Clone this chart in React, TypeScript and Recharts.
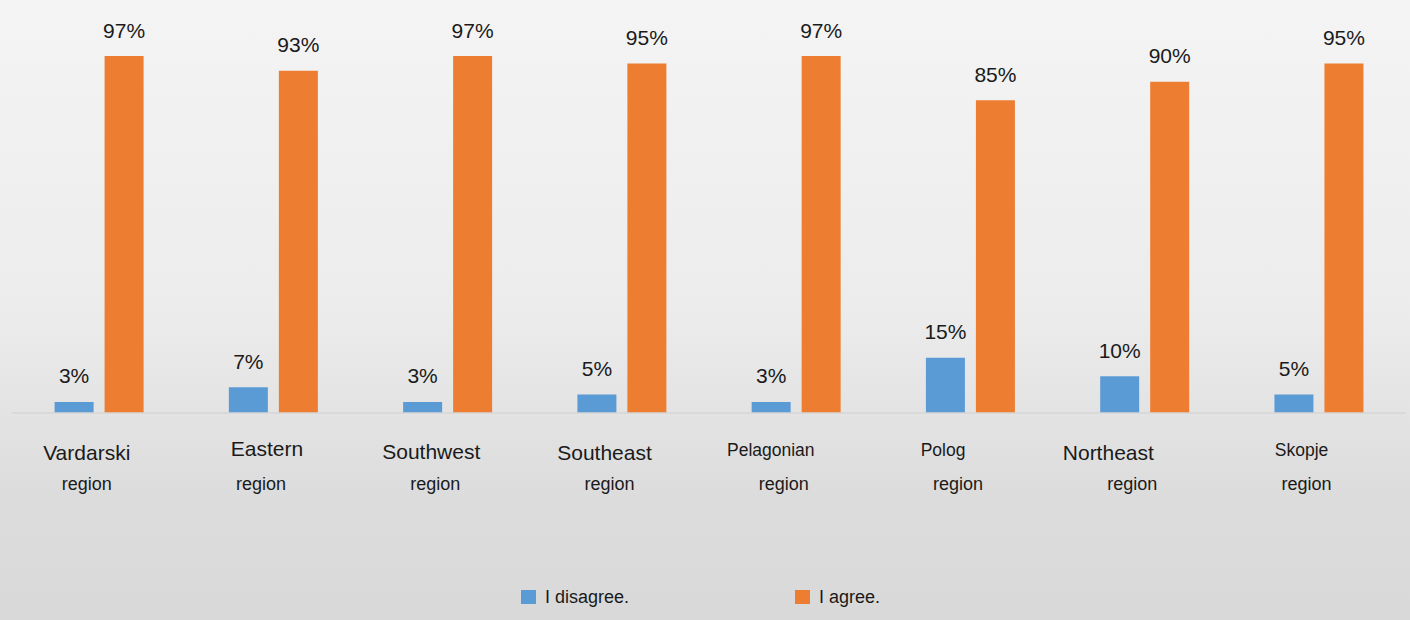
import React from "react"
import { BarChart, Bar, XAxis, YAxis, LabelList } from "recharts"

const regions = ["Vardarski", "Eastern", "Southwest", "Southeast", "Pelagonian", "Polog", "Northeast", "Skopje"]
const disagree = [3, 7, 3, 5, 3, 15, 10, 5]
const agree = [97, 93, 97, 95, 97, 85, 90, 95]
const seriesNames = ["I disagree.", "I agree."]

const BLUE = "#5B9BD5"
const ORANGE = "#ED7D31"
const FONT = "'Liberation Sans', Arial, sans-serif"

// the first label line is placed a bit differently under each group
const tickLayout = [
    { dx: -12, dy: 47, size: 21 },
    { dx: -6, dy: 43, size: 21 },
    { dx: -16, dy: 46, size: 21 },
    { dx: -17, dy: 47, size: 21 },
    { dx: -25, dy: 43, size: 17.5 },
    { dx: -27, dy: 43, size: 17.5 },
    { dx: -36, dy: 47, size: 21 },
    { dx: -17, dy: 43, size: 17.5 },
]

const data = regions.map((name, i) => ({
    name,
    disagree: disagree[i],
    agree: agree[i],
}))

function RegionTick(props: any) {
    const { x, y, payload, index } = props
    const l = tickLayout[index] || tickLayout[0]
    return (
        <g>
            <text
                x={x + l.dx}
                y={y + l.dy}
                textAnchor="middle"
                fontSize={l.size}
                fill="#1a1a1a"
                fontFamily={FONT}
            >
                {payload.value}
            </text>
            <text
                x={x - 12}
                y={y + 77}
                textAnchor="middle"
                fontSize={18}
                fill="#1a1a1a"
                fontFamily={FONT}
            >
                region
            </text>
        </g>
    )
}

export default function App() {
    return (
        <div
            style={{
                position: "absolute",
                left: 0,
                top: 0,
                width: 1410,
                height: 620,
                background: "linear-gradient(to bottom, #f4f4f4 0%, #ececec 50%, #dcdcdc 80%, #d9d9d9 100%)",
                fontFamily: FONT,
            }}
        >
            <BarChart
                width={1410}
                height={620}
                data={data}
                margin={{ top: 45, right: 4.3, left: 11.6, bottom: 107 }}
                barSize={39}
                barGap={11}
            >
                <XAxis
                    dataKey="name"
                    height={100}
                    axisLine={{ stroke: "#d6d6d6", strokeWidth: 1.5 }}
                    tickLine={false}
                    tickSize={0}
                    tickMargin={0}
                    interval={0}
                    tick={<RegionTick />}
                />
                <YAxis hide domain={[0, 100]} />
                <Bar dataKey="disagree" name={seriesNames[0]} fill={BLUE} isAnimationActive={false}>
                    <LabelList
                        dataKey="disagree"
                        position="top"
                        offset={18.5}
                        fontSize={21}
                        fill="#1a1a1a"
                        fontFamily={FONT}
                        formatter={(v: any) => `${v}%`}
                    />
                </Bar>
                <Bar dataKey="agree" name={seriesNames[1]} fill={ORANGE} isAnimationActive={false}>
                    <LabelList
                        dataKey="agree"
                        position="top"
                        offset={18.5}
                        fontSize={21}
                        fill="#1a1a1a"
                        fontFamily={FONT}
                        formatter={(v: any) => `${v}%`}
                    />
                </Bar>
            </BarChart>

            {/* legend */}
            <div style={{ position: "absolute", left: 521, top: 590, display: "flex", alignItems: "center" }}>
                <div style={{ width: 15, height: 14, background: BLUE }} />
                <span style={{ marginLeft: 9, fontSize: 18, color: "#1a1a1a", lineHeight: "14px" }}>{seriesNames[0]}</span>
            </div>
            <div style={{ position: "absolute", left: 795, top: 590, display: "flex", alignItems: "center" }}>
                <div style={{ width: 15, height: 14, background: ORANGE }} />
                <span style={{ marginLeft: 9, fontSize: 18, color: "#1a1a1a", lineHeight: "14px" }}>{seriesNames[1]}</span>
            </div>
        </div>
    )
}
